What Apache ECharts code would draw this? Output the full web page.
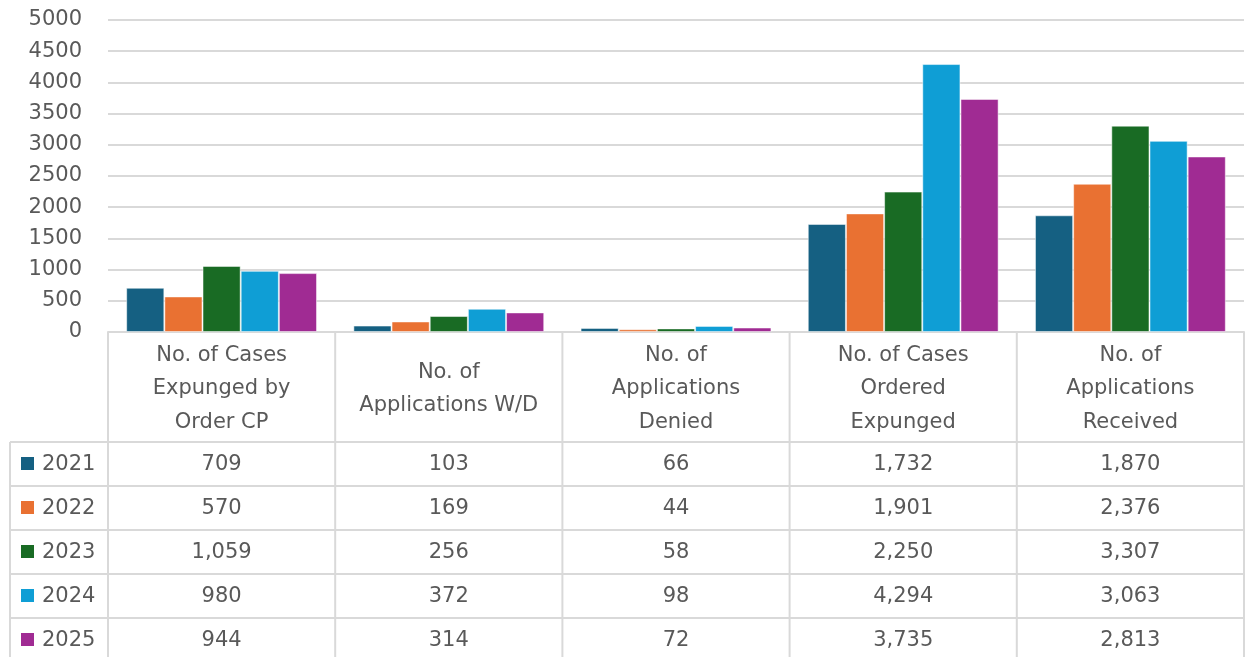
<!DOCTYPE html>
<html>
<head>
<meta charset="utf-8">
<script src="https://cdn.jsdelivr.net/npm/echarts@6/dist/echarts.min.js"></script>
<style>
  html, body { margin: 0; padding: 0; background: #fff; }
  #chart { width: 1248px; height: 657px; }
</style>
</head>
<body>
<div id="chart"></div>
<script>
// data
var categories = [
  'No. of Cases\nExpunged by\nOrder CP',
  'No. of\nApplications W/D',
  'No. of\nApplications\nDenied',
  'No. of Cases\nOrdered\nExpunged',
  'No. of\nApplications\nReceived'
]
var years = ['2021', '2022', '2023', '2024', '2025']
var values2021 = [709, 103, 66, 1732, 1870]
var values2022 = [570, 169, 44, 1901, 2376]
var values2023 = [1059, 256, 58, 2250, 3307]
var values2024 = [980, 372, 98, 4294, 3063]
var values2025 = [944, 314, 72, 3735, 2813]
var seriesValues = [values2021, values2022, values2023, values2024, values2025]
var colors = ['#156082', '#E97132', '#196B24', '#0F9ED5', '#A02B93']

var textColor = '#595959'
var lineColor = '#d9d9d9'
var fontFamily = '"DejaVu Sans", "Open Sans", sans-serif'
var fontSize = 21

var gridLeft = 108
var gridRight = 4
var gridTop = 20
var gridBottom = 325
var headerH = 110
var rowH = 44
var legendLeft = 10

var chart = echarts.init(document.getElementById('chart'))

chart.setOption({
  animation: false,
  textStyle: { fontFamily: fontFamily },
  grid: { left: gridLeft, right: gridRight, top: gridTop, bottom: gridBottom, containLabel: false },
  xAxis: {
    type: 'category',
    data: categories,
    axisLine: { lineStyle: { color: lineColor, width: 2 } },
    axisTick: { show: false },
    axisLabel: { show: false }
  },
  yAxis: {
    type: 'value',
    min: 0,
    max: 5000,
    interval: 500,
    axisLine: { show: false },
    axisTick: { show: false },
    axisLabel: {
      color: textColor, fontSize: fontSize, margin: 26, fontFamily: fontFamily,
      formatter: function (v) { return String(v) }
    },
    splitLine: { lineStyle: { color: lineColor, width: 2 } }
  },
  series: years.map(function (y, i) {
    return {
      name: y,
      type: 'bar',
      data: seriesValues[i],
      barGap: '0%',
      barCategoryGap: '16%',
      itemStyle: { color: colors[i], borderColor: 'rgba(255,255,255,0.5)', borderWidth: 1 }
    }
  })
})

// data table under the plot
function buildTable() {
  var W = chart.getWidth()
  var H = chart.getHeight()
  var plotRight = W - gridRight
  var colW = (plotRight - gridLeft) / categories.length
  var top = chart.convertToPixel({ yAxisIndex: 0 }, 0)
  var bodyTop = top + headerH
  var els = []
  var line = function (x1, y1, x2, y2) {
    els.push({ type: 'line', shape: { x1: x1, y1: y1, x2: x2, y2: y2 }, style: { stroke: lineColor, lineWidth: 2 }, silent: true })
  }
  // horizontal rules
  for (var r = 0; r <= years.length; r++) {
    line(legendLeft, bodyTop + r * rowH, plotRight, bodyTop + r * rowH)
  }
  // vertical rules
  line(legendLeft, bodyTop, legendLeft, H)
  for (var c = 0; c <= categories.length; c++) {
    line(gridLeft + c * colW, top, gridLeft + c * colW, H)
  }
  // header labels
  categories.forEach(function (cat, c) {
    var cx = chart.convertToPixel({ xAxisIndex: 0 }, c)
    els.push({
      type: 'text', silent: true,
      x: cx, y: top + headerH / 2 + 2,
      style: { text: cat, fill: textColor, font: fontSize + 'px ' + fontFamily, align: 'center', verticalAlign: 'middle', lineHeight: 33.5 }
    })
  })
  // rows
  years.forEach(function (y, r) {
    var cy = bodyTop + (r + 0.5) * rowH
    els.push({ type: 'rect', silent: true, shape: { x: 21, y: cy - 7, width: 13, height: 13 }, style: { fill: colors[r] } })
    els.push({
      type: 'text', silent: true, x: 42, y: cy + 1,
      style: { text: y, fill: textColor, font: fontSize + 'px ' + fontFamily, align: 'left', verticalAlign: 'middle' }
    })
    seriesValues[r].forEach(function (v, c) {
      var cx = chart.convertToPixel({ xAxisIndex: 0 }, c)
      els.push({
        type: 'text', silent: true, x: cx, y: cy + 1,
        style: { text: v.toLocaleString('en-US'), fill: textColor, font: fontSize + 'px ' + fontFamily, align: 'center', verticalAlign: 'middle' }
      })
    })
  })
  chart.setOption({ graphic: { elements: els } })
}
buildTable()
</script>
</body>
</html>
